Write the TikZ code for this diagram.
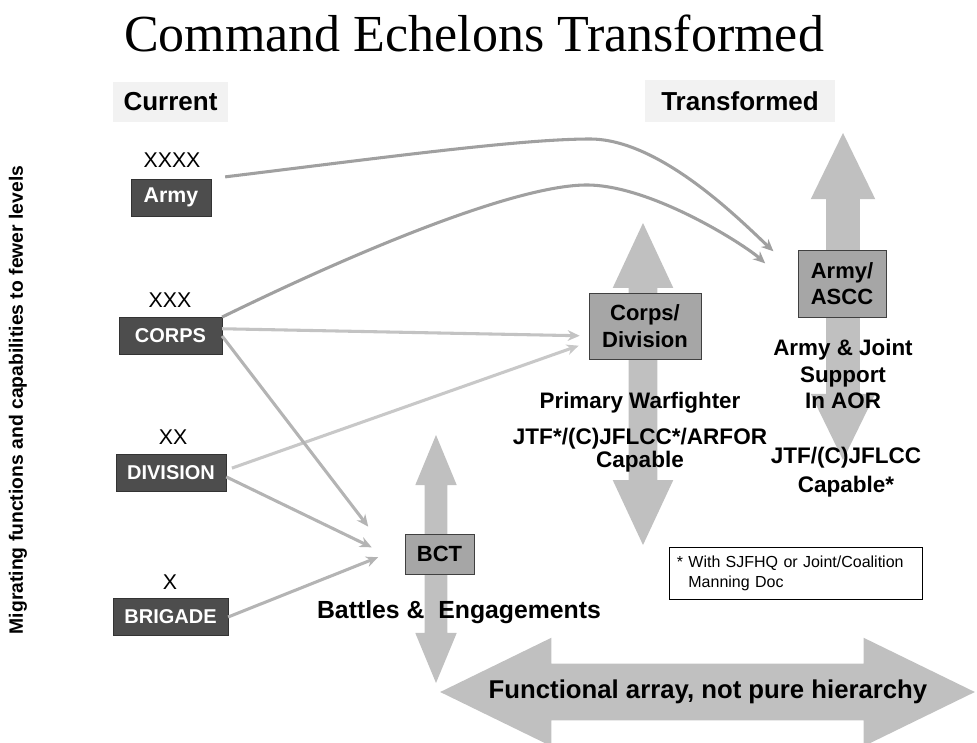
\documentclass[tikz,border=0pt]{standalone}
\usepackage{fontspec}
\setmainfont{Liberation Sans}
\newfontfamily\titlefont{Liberation Serif}
\usetikzlibrary{arrows.meta,shapes.arrows}
\definecolor{bigarrow}{HTML}{C0C0C0}
\definecolor{darkbox}{HTML}{4D4D4D}
\definecolor{lightbox}{HTML}{A6A6A6}
\definecolor{headbox}{HTML}{F2F2F2}
\definecolor{linkdark}{HTML}{A0A0A0}
\definecolor{linkmid}{HTML}{B4B4B4}
\definecolor{linklight}{HTML}{C8C8C8}
\begin{document}
\begin{tikzpicture}[x=0.75pt, y=-0.75pt,
  echelon/.style={draw=black!80, fill=darkbox, text=white, font=\bfseries\fontsize{15}{18}\selectfont, minimum height=28pt, inner sep=0pt},
  rank/.style={font=\fontsize{16}{19}\selectfont, inner sep=0pt},
  newbox/.style={draw=black!75, fill=lightbox, font=\bfseries\fontsize{16.5}{20}\selectfont, align=center, inner sep=0pt},
  heading/.style={fill=headbox, font=\bfseries\fontsize{19.5}{23}\selectfont, inner sep=0pt},
  note/.style={font=\bfseries\fontsize{17}{20}\selectfont, align=center, inner sep=0pt},
  vbig/.style={double arrow, fill=bigarrow, rotate=90, inner xsep=0pt},
  link/.style={-{Stealth[length=9pt, width=8pt]}, line width=2.3pt}
]
\useasboundingbox (0,0) rectangle (977,742);

\node[font=\titlefont\fontsize{39}{44}\selectfont, anchor=base] (title) at (474,51) {Command Echelons Transformed};

\node[vbig, minimum height=245.25pt, minimum width=48pt, inner ysep=12.4pt, double arrow head extend=11.6pt, double arrow tip angle=52] (upASCC) at (843,296.5) {};
\node[vbig, minimum height=241.5pt, minimum width=45pt, inner ysep=10.5pt, double arrow head extend=12pt, double arrow tip angle=50] (upCorps) at (643,384) {};
\node[vbig, minimum height=186pt, minimum width=30.75pt, inner ysep=8.25pt, double arrow head extend=7.1pt, double arrow tip angle=45] (upBCT) at (436,559) {};
\node[double arrow, fill=bigarrow, inner xsep=0pt, inner ysep=21pt, minimum height=401pt, minimum width=81pt, double arrow head extend=19.5pt, double arrow tip angle=52] (funcArrow) at (707.5,692) {};
\node[font=\bfseries\fontsize{19.3}{23}\selectfont] (funcText) at (708,692) {Functional array, not pure hierarchy};

\node[heading, minimum width=86.25pt, minimum height=30pt] (current) at (170.5,102) {Current};
\node[heading, minimum width=142.5pt, minimum height=31.5pt] (transformed) at (740,101) {Transformed};

\node[rank] (xxxx) at (172,160) {XXXX};
\node[echelon, minimum width=60pt, font=\bfseries\fontsize{16}{18}\selectfont] (army) at (171,197.5) {Army};
\node[rank] (xxx) at (170,300) {XXX};
\node[echelon, minimum width=77pt] (corps) at (170.5,336) {CORPS};
\node[rank] (xx) at (173,437) {XX};
\node[echelon, minimum width=82.5pt] (div) at (171,473) {DIVISION};
\node[rank] (x) at (170,582) {X};
\node[echelon, minimum width=86pt] (brig) at (170.5,617) {BRIGADE};

\node[newbox, minimum width=84pt, minimum height=49.5pt] (cdiv) at (645,326) {Corps/\\Division};
\node[newbox, minimum width=66pt, minimum height=50pt] (ascc) at (842,283.5) {Army/\\ASCC};
\node[newbox, minimum width=51.75pt, minimum height=30pt] (bct) at (439.5,554) {BCT};

\draw[link, color=linkdark, shorten <=10.5pt, shorten >=25pt] (army.north east) .. controls (380,158) and (520,139) .. (590,139) .. controls (660,139) and (740,220) .. (ascc.168);
\draw[link, color=linkdark, shorten >=33pt] (corps.north east) .. controls (380,240) and (520,186) .. (585,185) .. controls (650,184) and (745,245) .. (ascc.192);
\draw[link, color=linkmid!80!white, shorten >=6.75pt] (corps.8) -- (cdiv.190);
\draw[link, color=linklight, shorten <=4.5pt, shorten >=8pt] (div.3) -- (cdiv.196);
\draw[link, color=linkmid, shorten >=45pt] (corps.east) -- (bct.south west);
\draw[link, color=linkmid, shorten >=27.5pt] (div.-4) -- (bct.195);
\draw[link, color=linkmid, shorten >=21.5pt] (brig.east) -- (bct.168);

\node[note, font=\bfseries\fontsize{16.8}{20}\selectfont] (support) at (843,374) {Army \& Joint\\Support\\In AOR};
\node[note, font=\bfseries\fontsize{16.8}{20}\selectfont] (warfighter) at (640,403) {Primary Warfighter};
\node[note, font=\bfseries\fontsize{16.9}{15}\selectfont] (arfor) at (640,450) {JTF*/(C)JFLCC*/ARFOR\\Capable};
\node[note, font=\bfseries\fontsize{16.9}{22}\selectfont] (jflcc) at (846,472) {JTF/(C)JFLCC\\Capable*};
\node[note, font=\bfseries\fontsize{18.6}{22}\selectfont] (battles) at (459,612) {Battles \& \ Engagements};

\node[draw=black, fill=white, font=\fontsize{12}{15}\selectfont, align=left, text width=178pt, inner xsep=6pt, minimum height=39pt] (footnote) at (795.5,573) {* With SJFHQ or Joint/Coalition\\\phantom{*} Manning Doc};

\node[rotate=90, font=\bfseries\fontsize{14.5}{17}\selectfont] (migrate) at (18,400) {Migrating functions and capabilities to fewer levels};
\end{tikzpicture}
\end{document}
